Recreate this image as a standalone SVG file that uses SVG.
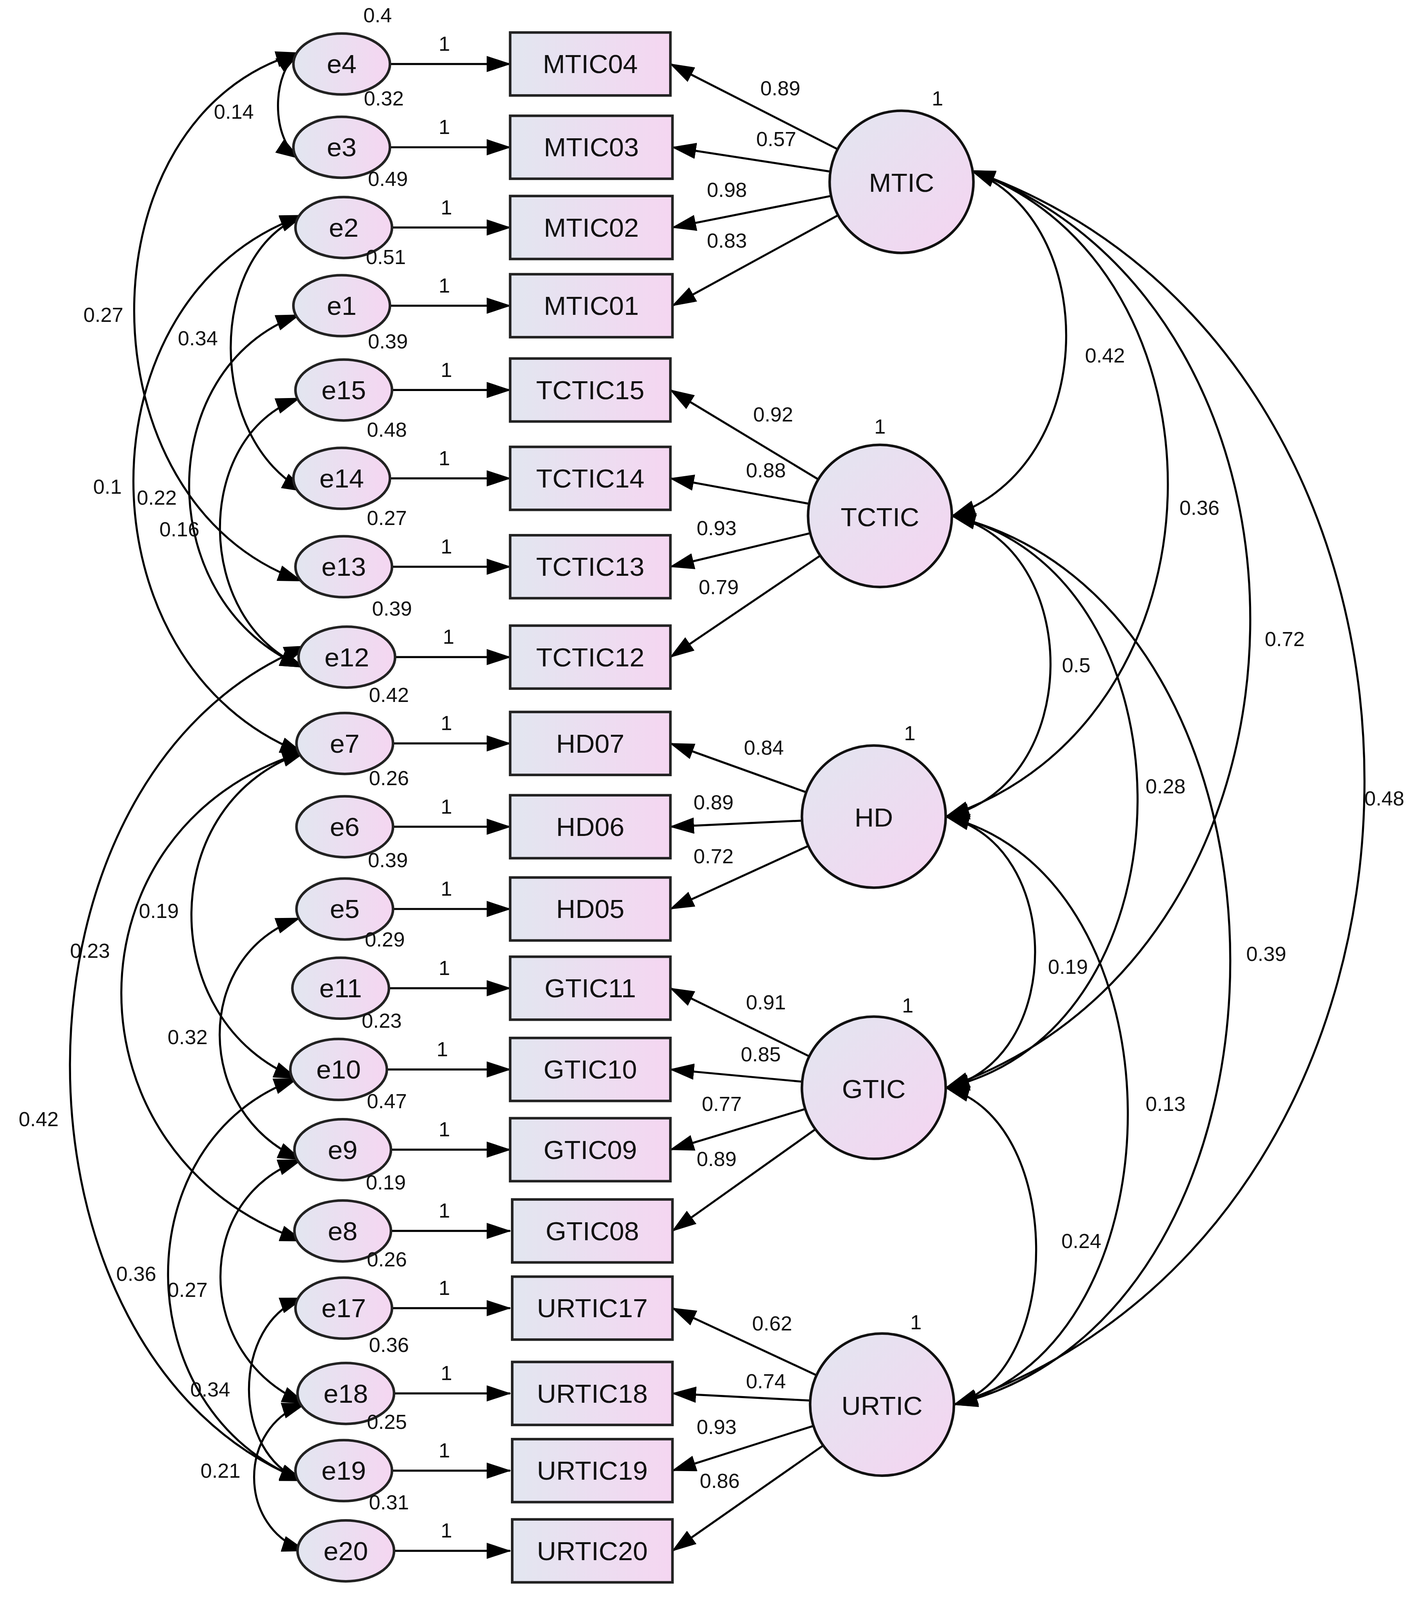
<svg xmlns="http://www.w3.org/2000/svg" width="3638" height="4169" viewBox="0 0 3638 4169">
<defs>
<linearGradient id="gh" x1="0" y1="0" x2="1" y2="0"><stop offset="0" stop-color="#e2e6f0"/><stop offset="1" stop-color="#f5d6f1"/></linearGradient>
<linearGradient id="gd" x1="0" y1="0" x2="1" y2="1"><stop offset="0" stop-color="#e2e6f0"/><stop offset="1" stop-color="#f5d4f1"/></linearGradient>
<marker id="ah" viewBox="0 0 12 8" refX="11.5" refY="4" markerWidth="12" markerHeight="8" orient="auto-start-reverse" markerUnits="strokeWidth"><path d="M0,0 L12,4 L0,8 z" fill="#000"/></marker>
</defs>
<style>
.ob{fill:url(#gh);stroke:#222;stroke-width:2.5}
.lv{fill:url(#gd);stroke:#111;stroke-width:2.5}
.nt{font-family:"Liberation Sans",Arial,sans-serif;font-size:26px;text-anchor:middle;fill:#111}
.el{font-family:"Liberation Sans",Arial,sans-serif;font-size:20px;text-anchor:middle;fill:#111}
.c path,.c line{fill:none;stroke:#000;stroke-width:2;marker-end:url(#ah)}
.c .cv{marker-start:url(#ah)}
</style>
<rect width="3638" height="4169" fill="#fff"/>
<g transform="translate(20,0) scale(2.63,2.6)">
<g class="c" id="connectors">
<line x1="372" y1="63" x2="489" y2="63"/><line x1="372" y1="145" x2="489" y2="145"/><line x1="374" y1="224" x2="489" y2="224"/><line x1="372" y1="301" x2="489" y2="301"/><line x1="374" y1="384" x2="489" y2="384"/><line x1="372" y1="471" x2="489" y2="471"/><line x1="374" y1="558" x2="489" y2="558"/><line x1="377" y1="647" x2="489" y2="647"/><line x1="375" y1="732" x2="489" y2="732"/><line x1="375" y1="814" x2="489" y2="814"/><line x1="375" y1="895" x2="489" y2="895"/><line x1="371" y1="973" x2="489" y2="973"/><line x1="369" y1="1053" x2="489" y2="1053"/><line x1="373" y1="1132" x2="489" y2="1132"/><line x1="373" y1="1212" x2="489" y2="1212"/><line x1="374" y1="1288" x2="489" y2="1288"/><line x1="376" y1="1372" x2="489" y2="1372"/><line x1="374" y1="1448" x2="489" y2="1448"/><line x1="376" y1="1527" x2="489" y2="1527"/>
<line x1="808" y1="147" x2="645" y2="63"/><line x1="801" y1="169" x2="647" y2="145"/><line x1="801" y1="193" x2="647" y2="224"/><line x1="808" y1="212" x2="647" y2="301"/>
<line x1="789" y1="472" x2="645" y2="384"/><line x1="780" y1="496" x2="645" y2="471"/><line x1="781" y1="525" x2="645" y2="558"/><line x1="791" y1="547" x2="645" y2="647"/>
<line x1="777" y1="780" x2="645" y2="732"/><line x1="773" y1="808" x2="645" y2="814"/><line x1="779" y1="833" x2="645" y2="895"/>
<line x1="780" y1="1040" x2="645" y2="973"/><line x1="773" y1="1065" x2="645" y2="1053"/><line x1="776" y1="1092" x2="645" y2="1132"/><line x1="786" y1="1112" x2="647" y2="1212"/>
<line x1="787" y1="1354" x2="647" y2="1288"/><line x1="781" y1="1379" x2="647" y2="1372"/><line x1="784" y1="1404" x2="647" y2="1448"/><line x1="794" y1="1423" x2="647" y2="1527"/>
<path class="cv" d="M284,52 C256,70 256,138 284,156"/>
<path class="cv" d="M284,52 C69,113 69,496 286,572"/>
<path class="cv" d="M288,212 C193,249 193,434 290,484"/>
<path class="cv" d="M288,212 C67,289 67,656 288,742"/>
<path class="cv" d="M284,310 C140,362 140,595 288,657"/>
<path class="cv" d="M284,392 C180,429 180,612 288,657"/>
<path class="cv" d="M292,636 C-16,758 -16,1337 288,1458"/>
<path class="cv" d="M290,740 C51,812 51,1140 288,1222"/>
<path class="cv" d="M290,740 C143,788 143,1006 282,1062"/>
<path class="cv" d="M284,904 C180,940 180,1096 286,1142"/>
<path class="cv" d="M282,1062 C113,1121 113,1390 288,1458"/>
<path class="cv" d="M286,1142 C180,1178 180,1336 290,1382"/>
<path class="cv" d="M288,1278 C217,1302 217,1434 288,1458"/>
<path class="cv" d="M290,1382 C223,1403 223,1506 290,1527"/>
<path class="cv" d="M938,168 C1064,218 1064,458 919,508"/>
<path class="cv" d="M938,168 C1197,262 1197,710 913,804"/>
<path class="cv" d="M938,168 C1304,303 1304,936 913,1071"/>
<path class="cv" d="M938,168 C1451,350 1451,1201 921,1383"/>
<path class="cv" d="M919,508 C1048,538 1048,774 913,804"/>
<path class="cv" d="M919,508 C1161,564 1161,1015 913,1071"/>
<path class="cv" d="M919,508 C1280,595 1280,1296 921,1383"/>
<path class="cv" d="M913,804 C1029,831 1029,1044 913,1071"/>
<path class="cv" d="M913,804 C1148,862 1148,1325 921,1383"/>
<path class="cv" d="M913,1071 C1029,1102 1029,1352 921,1383"/>
</g>
<g id="e4"><ellipse class="ob" cx="325" cy="63" rx="47" ry="30"/><text class="nt" x="325" y="72">e4</text></g>
<g id="e3"><ellipse class="ob" cx="325" cy="145" rx="47" ry="30"/><text class="nt" x="325" y="154">e3</text></g>
<g id="e2"><ellipse class="ob" cx="327" cy="224" rx="47" ry="30"/><text class="nt" x="327" y="233">e2</text></g>
<g id="e1"><ellipse class="ob" cx="325" cy="301" rx="47" ry="30"/><text class="nt" x="325" y="310">e1</text></g>
<g id="e15"><ellipse class="ob" cx="327" cy="384" rx="47" ry="30"/><text class="nt" x="327" y="393">e15</text></g>
<g id="e14"><ellipse class="ob" cx="325" cy="471" rx="47" ry="30"/><text class="nt" x="325" y="480">e14</text></g>
<g id="e13"><ellipse class="ob" cx="327" cy="558" rx="47" ry="30"/><text class="nt" x="327" y="567">e13</text></g>
<g id="e12"><ellipse class="ob" cx="330" cy="647" rx="47" ry="30"/><text class="nt" x="330" y="656">e12</text></g>
<g id="e7"><ellipse class="ob" cx="328" cy="732" rx="47" ry="30"/><text class="nt" x="328" y="741">e7</text></g>
<g id="e6"><ellipse class="ob" cx="328" cy="814" rx="47" ry="30"/><text class="nt" x="328" y="823">e6</text></g>
<g id="e5"><ellipse class="ob" cx="328" cy="895" rx="47" ry="30"/><text class="nt" x="328" y="904">e5</text></g>
<g id="e11"><ellipse class="ob" cx="324" cy="973" rx="47" ry="30"/><text class="nt" x="324" y="982">e11</text></g>
<g id="e10"><ellipse class="ob" cx="322" cy="1053" rx="47" ry="30"/><text class="nt" x="322" y="1062">e10</text></g>
<g id="e9"><ellipse class="ob" cx="326" cy="1132" rx="47" ry="30"/><text class="nt" x="326" y="1141">e9</text></g>
<g id="e8"><ellipse class="ob" cx="326" cy="1212" rx="47" ry="30"/><text class="nt" x="326" y="1221">e8</text></g>
<g id="e17"><ellipse class="ob" cx="327" cy="1288" rx="47" ry="30"/><text class="nt" x="327" y="1297">e17</text></g>
<g id="e18"><ellipse class="ob" cx="329" cy="1372" rx="47" ry="30"/><text class="nt" x="329" y="1381">e18</text></g>
<g id="e19"><ellipse class="ob" cx="327" cy="1448" rx="47" ry="30"/><text class="nt" x="327" y="1457">e19</text></g>
<g id="e20"><ellipse class="ob" cx="329" cy="1527" rx="47" ry="30"/><text class="nt" x="329" y="1536">e20</text></g>
<g id="MTIC04"><rect class="ob" x="489" y="32" width="156" height="62"/><text class="nt" x="567" y="72">MTIC04</text></g>
<g id="MTIC03"><rect class="ob" x="489" y="114" width="158" height="62"/><text class="nt" x="568" y="154">MTIC03</text></g>
<g id="MTIC02"><rect class="ob" x="489" y="193" width="158" height="62"/><text class="nt" x="568" y="233">MTIC02</text></g>
<g id="MTIC01"><rect class="ob" x="489" y="270" width="158" height="62"/><text class="nt" x="568" y="310">MTIC01</text></g>
<g id="TCTIC15"><rect class="ob" x="489" y="353" width="156" height="62"/><text class="nt" x="567" y="393">TCTIC15</text></g>
<g id="TCTIC14"><rect class="ob" x="489" y="440" width="156" height="62"/><text class="nt" x="567" y="480">TCTIC14</text></g>
<g id="TCTIC13"><rect class="ob" x="489" y="527" width="156" height="62"/><text class="nt" x="567" y="567">TCTIC13</text></g>
<g id="TCTIC12"><rect class="ob" x="489" y="616" width="156" height="62"/><text class="nt" x="567" y="656">TCTIC12</text></g>
<g id="HD07"><rect class="ob" x="489" y="701" width="156" height="62"/><text class="nt" x="567" y="741">HD07</text></g>
<g id="HD06"><rect class="ob" x="489" y="783" width="156" height="62"/><text class="nt" x="567" y="823">HD06</text></g>
<g id="HD05"><rect class="ob" x="489" y="864" width="156" height="62"/><text class="nt" x="567" y="904">HD05</text></g>
<g id="GTIC11"><rect class="ob" x="489" y="942" width="156" height="62"/><text class="nt" x="567" y="982">GTIC11</text></g>
<g id="GTIC10"><rect class="ob" x="489" y="1022" width="156" height="62"/><text class="nt" x="567" y="1062">GTIC10</text></g>
<g id="GTIC09"><rect class="ob" x="489" y="1101" width="156" height="62"/><text class="nt" x="567" y="1141">GTIC09</text></g>
<g id="GTIC08"><rect class="ob" x="491" y="1181" width="156" height="62"/><text class="nt" x="569" y="1221">GTIC08</text></g>
<g id="URTIC17"><rect class="ob" x="491" y="1257" width="156" height="62"/><text class="nt" x="569" y="1297">URTIC17</text></g>
<g id="URTIC18"><rect class="ob" x="491" y="1341" width="156" height="62"/><text class="nt" x="569" y="1381">URTIC18</text></g>
<g id="URTIC19"><rect class="ob" x="491" y="1417" width="156" height="62"/><text class="nt" x="569" y="1457">URTIC19</text></g>
<g id="URTIC20"><rect class="ob" x="491" y="1496" width="156" height="62"/><text class="nt" x="569" y="1536">URTIC20</text></g>
<g id="MTIC"><circle class="lv" cx="870" cy="179" r="70"/><text class="nt" x="870" y="189">MTIC</text></g>
<g id="TCTIC"><circle class="lv" cx="849" cy="508" r="70"/><text class="nt" x="849" y="518">TCTIC</text></g>
<g id="HD"><circle class="lv" cx="843" cy="804" r="70"/><text class="nt" x="843" y="814">HD</text></g>
<g id="GTIC"><circle class="lv" cx="843" cy="1071" r="70"/><text class="nt" x="843" y="1081">GTIC</text></g>
<g id="URTIC"><circle class="lv" cx="851" cy="1383" r="70"/><text class="nt" x="851" y="1393">URTIC</text></g>
<g id="labels">
<text class="el" x="360" y="22">0.4</text><text class="el" x="366" y="104">0.32</text><text class="el" x="370" y="183">0.49</text><text class="el" x="368" y="260">0.51</text><text class="el" x="370" y="343">0.39</text><text class="el" x="369" y="430">0.48</text><text class="el" x="369" y="517">0.27</text><text class="el" x="374" y="606">0.39</text><text class="el" x="371" y="691">0.42</text><text class="el" x="371" y="773">0.26</text><text class="el" x="370" y="854">0.39</text><text class="el" x="367" y="932">0.29</text><text class="el" x="364" y="1012">0.23</text><text class="el" x="369" y="1091">0.47</text><text class="el" x="368" y="1171">0.19</text><text class="el" x="369" y="1247">0.26</text><text class="el" x="371" y="1331">0.36</text><text class="el" x="369" y="1407">0.25</text><text class="el" x="371" y="1486">0.31</text>
<text class="el" x="425" y="50">1</text><text class="el" x="425" y="132">1</text><text class="el" x="427" y="211">1</text><text class="el" x="425" y="288">1</text><text class="el" x="427" y="371">1</text><text class="el" x="425" y="458">1</text><text class="el" x="427" y="545">1</text><text class="el" x="429" y="634">1</text><text class="el" x="427" y="719">1</text><text class="el" x="427" y="801">1</text><text class="el" x="427" y="882">1</text><text class="el" x="425" y="960">1</text><text class="el" x="423" y="1040">1</text><text class="el" x="425" y="1119">1</text><text class="el" x="425" y="1199">1</text><text class="el" x="425" y="1275">1</text><text class="el" x="427" y="1359">1</text><text class="el" x="425" y="1435">1</text><text class="el" x="427" y="1514">1</text>
<text class="el" x="905" y="104">1</text><text class="el" x="849" y="427">1</text><text class="el" x="878" y="729">1</text><text class="el" x="876" y="997">1</text><text class="el" x="884" y="1309">1</text>
<text class="el" x="752" y="94">0.89</text><text class="el" x="748" y="144">0.57</text><text class="el" x="700" y="194">0.98</text><text class="el" x="700" y="244">0.83</text>
<text class="el" x="745" y="415">0.92</text><text class="el" x="738" y="470">0.88</text><text class="el" x="690" y="527">0.93</text><text class="el" x="692" y="585">0.79</text>
<text class="el" x="736" y="743">0.84</text><text class="el" x="687" y="797">0.89</text><text class="el" x="687" y="850">0.72</text>
<text class="el" x="738" y="994">0.91</text><text class="el" x="733" y="1045">0.85</text><text class="el" x="695" y="1094">0.77</text><text class="el" x="690" y="1148">0.89</text>
<text class="el" x="744" y="1310">0.62</text><text class="el" x="738" y="1367">0.74</text><text class="el" x="690" y="1412">0.93</text><text class="el" x="693" y="1465">0.86</text>
<text class="el" x="220" y="117">0.14</text><text class="el" x="93" y="317">0.27</text><text class="el" x="185" y="340">0.34</text><text class="el" x="97" y="486">0.1</text><text class="el" x="145" y="497">0.22</text><text class="el" x="167" y="528">0.16</text><text class="el" x="147" y="904">0.19</text><text class="el" x="80" y="943">0.23</text><text class="el" x="175" y="1028">0.32</text><text class="el" x="30" y="1109">0.42</text><text class="el" x="125" y="1261">0.36</text><text class="el" x="175" y="1277">0.27</text><text class="el" x="197" y="1375">0.34</text><text class="el" x="207" y="1455">0.21</text>
<text class="el" x="1068" y="357">0.42</text><text class="el" x="1160" y="507">0.36</text><text class="el" x="1243" y="636">0.72</text><text class="el" x="1340" y="793">0.48</text><text class="el" x="1040" y="662">0.5</text><text class="el" x="1127" y="781">0.28</text><text class="el" x="1225" y="946">0.39</text><text class="el" x="1032" y="959">0.19</text><text class="el" x="1127" y="1094">0.13</text><text class="el" x="1045" y="1229">0.24</text>
</g>
</g>
</svg>
